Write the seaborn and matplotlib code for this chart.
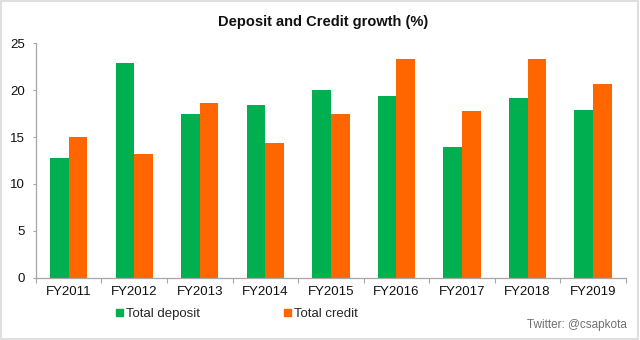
import matplotlib
matplotlib.use("Agg")
import matplotlib.pyplot as plt
import seaborn as sns
import pandas as pd
import numpy as np

years = ["FY2011", "FY2012", "FY2013", "FY2014", "FY2015",
         "FY2016", "FY2017", "FY2018", "FY2019"]
total_deposit = [12.8, 22.9, 17.4, 18.4, 20.0, 19.4, 13.9, 19.2, 17.9]
total_credit = [15.0, 13.2, 18.6, 14.4, 17.4, 23.3, 17.8, 23.3, 20.6]
series_names = ["Total deposit", "Total credit"]
colors = ["#00B050", "#FF6600"]

df = pd.DataFrame({
    "Year": years * 2,
    "Value": total_deposit + total_credit,
    "Series": [series_names[0]] * len(years) + [series_names[1]] * len(years),
})

sns.set_theme(style="white")
plt.rcParams["font.family"] = ["Liberation Sans", "DejaVu Sans"]

fig = plt.figure(figsize=(6.4, 3.4), dpi=100)
ax = fig.add_axes([0.056, 0.183, 0.922, 0.69])

sns.barplot(data=df, x="Year", y="Value", hue="Series", palette=colors,
            width=0.57, ax=ax, legend=False, saturation=1, linewidth=0,
            gap=0)

ax.set_ylim(0, 25)
ax.set_xlim(-0.5, len(years) - 0.5)
ax.set_yticks([0, 5, 10, 15, 20, 25])
ax.set_xlabel("")
ax.set_ylabel("")

for s in ["top", "right"]:
    ax.spines[s].set_visible(False)
for s in ["left", "bottom"]:
    ax.spines[s].set_color("#A6A6A6")
    ax.spines[s].set_linewidth(0.9)

ax.tick_params(axis="y", labelsize=9.5, colors="#A6A6A6", labelcolor="#111111",
               length=2.5, width=0.8, left=True, pad=5.5)
ax.tick_params(axis="x", which="major", length=0, labelsize=9.5,
               labelcolor="#111111", pad=6)
ax.set_xticks(np.arange(-0.5, len(years) + 0.5, 1), minor=True)
ax.tick_params(axis="x", which="minor", length=3.5, width=0.8,
               colors="#A6A6A6", bottom=True)

fig.text(0.505, 0.935, "Deposit and Credit growth (%)", fontsize=10.5,
         fontweight="bold", ha="center", va="center", color="#111111")

# legend entries below the plot, one per series
for name, c, xpos in zip(series_names, colors, [0.182, 0.444]):
    fig.legend([plt.Rectangle((0, 0), 1, 1, color=c)], [name],
               loc="center left", bbox_to_anchor=(xpos, 0.076),
               frameon=False, fontsize=9.5, borderpad=0, borderaxespad=0,
               handlelength=0.5, handleheight=0.5, handletextpad=0.25)

fig.text(0.98, 0.044, "Twitter: @csapkota", ha="right", va="center",
         fontsize=8.5, color="#707070")

# light frame round the figure
fig.patches.append(plt.Rectangle((0.002, 0.003), 0.995, 0.993,
                                 transform=fig.transFigure, fill=False,
                                 edgecolor="#D9D9D9", linewidth=1.2))

fig.savefig("out.png", dpi=100, facecolor="white")
